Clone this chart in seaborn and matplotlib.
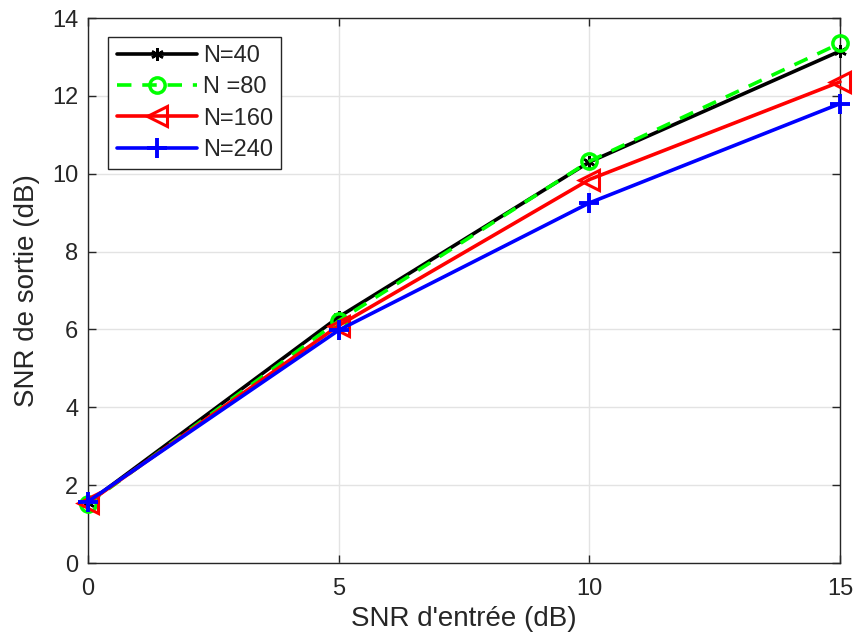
import matplotlib
matplotlib.use("Agg")
import matplotlib.pyplot as plt
import seaborn as sns
import pandas as pd

snr_in = [0, 5, 10, 15]
n40 = [1.55, 6.32, 10.30, 13.15]
n80 = [1.52, 6.22, 10.32, 13.35]
n160 = [1.55, 6.10, 9.85, 12.36]
n240 = [1.58, 5.98, 9.25, 11.80]
labels = ["N=40", "N =80", "N=160", "N=240"]
xticks = [0, 5, 10, 15]
yticks = [0, 2, 4, 6, 8, 10, 12, 14]

sns.set_theme(style="whitegrid")
plt.rcParams['font.family'] = ['Liberation Sans', 'DejaVu Sans']

fig = plt.figure(figsize=(8.58, 6.43), dpi=100)
ax = fig.add_axes([0.1026, 0.1244, 0.8764, 0.8476])

styles = [
    dict(color="black", ls="-", marker=(6, 2, 0), ms=9, mfc="black", mew=1.8),
    dict(color="#00ff00", ls=(0, (4, 3)), marker="o", ms=11, mfc="none", mew=2.5),
    dict(color="red", ls="-", marker="<", ms=14, mfc="none", mew=2.2),
    dict(color="blue", ls="-", marker="+", ms=14, mfc="none", mew=2.8),
]
series = [n40, n80, n160, n240]
for lab, ys, st in zip(labels, series, styles):
    df = pd.DataFrame({"x": snr_in, "y": ys})
    sns.lineplot(data=df, x="x", y="y", ax=ax, label=lab, color=st["color"],
                 linestyle=st["ls"], marker=st["marker"], markersize=st["ms"],
                 markerfacecolor=st["mfc"], markeredgecolor=st["color"],
                 markeredgewidth=st["mew"], linewidth=2.6, clip_on=False,
                 zorder=3)

ax.set_xlim(0, 15)
ax.set_ylim(0, 14)
ax.set_xticks(xticks)
ax.set_yticks(yticks)
ax.set_facecolor("white")
ax.grid(True, color="#e3e3e3", linewidth=1.0)
for s in ax.spines.values():
    s.set_color("#262626")
    s.set_linewidth(1.0)
    s.set_zorder(2.5)
ax.tick_params(axis="both", direction="in", length=6, width=1, color="#262626",
               labelsize=17, labelcolor="#262626", pad=7, top=True, right=True,
               bottom=True, left=True)
ax.tick_params(axis="x", pad=11)
ax.set_xlabel("SNR d'entrée (dB)", fontsize=20, color="#262626", labelpad=4)
ax.set_ylabel("SNR de sortie (dB)", fontsize=20, color="#262626", labelpad=9)

leg = ax.legend(loc="upper left", bbox_to_anchor=(0.027, 0.966), fontsize=17,
                frameon=True, fancybox=False, handlelength=3.4, handletextpad=0.25,
                borderpad=0.35, labelspacing=0.4, borderaxespad=0)
leg.get_frame().set_edgecolor("#262626")
leg.get_frame().set_linewidth(1.0)
leg.get_frame().set_alpha(1)
leg.set_zorder(5)

fig.savefig("out.png", dpi=100)
